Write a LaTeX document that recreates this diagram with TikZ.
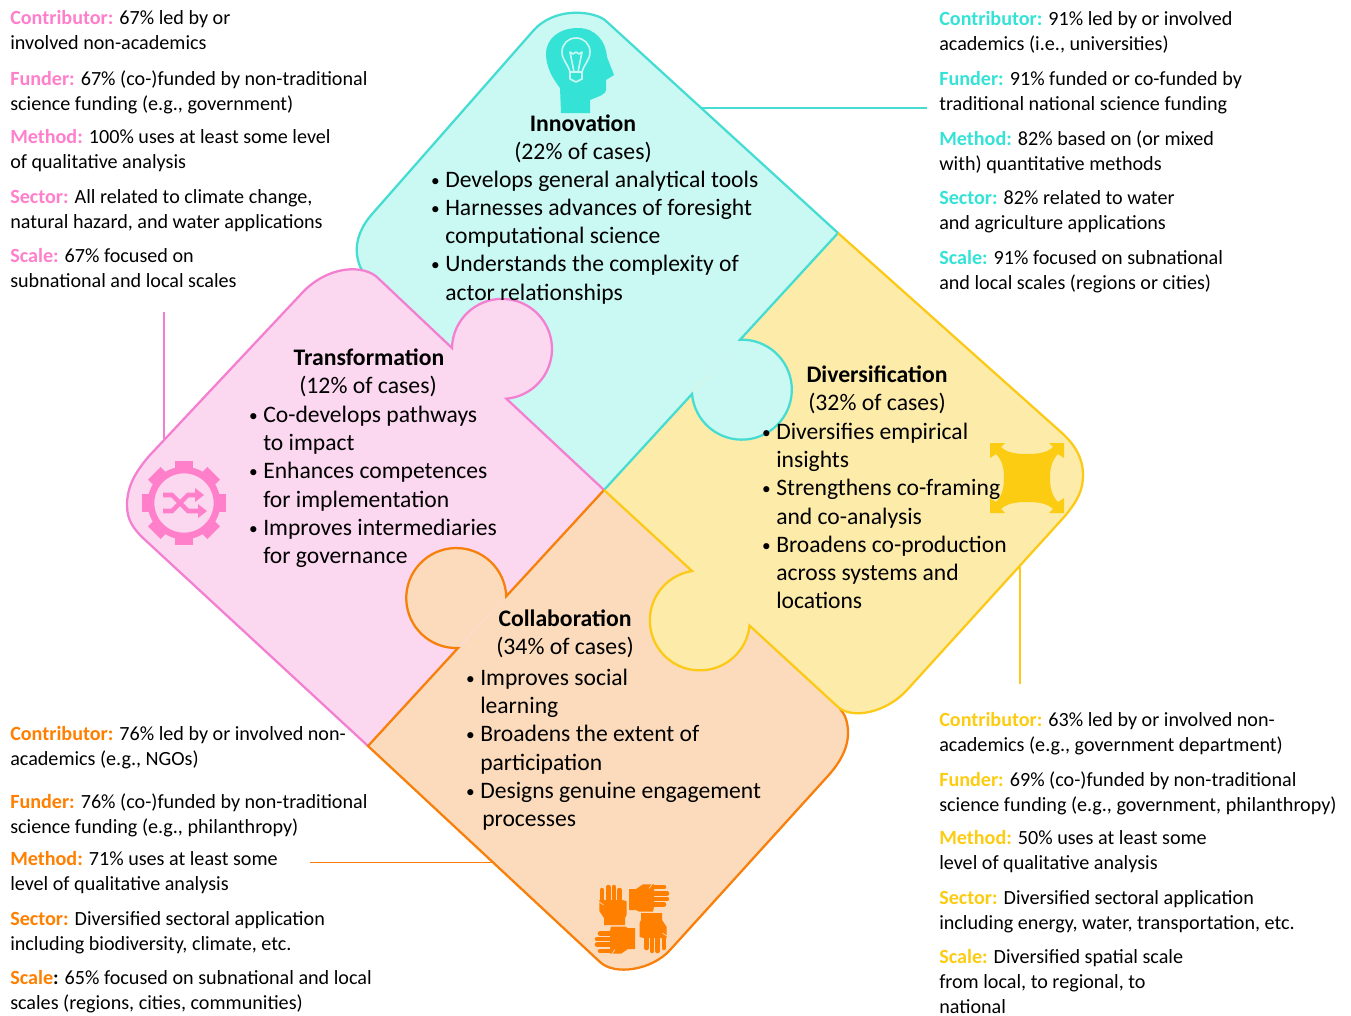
\documentclass[tikz,border=0pt]{standalone}
\usepackage{fontspec}
\setmainfont{Carlito}

\definecolor{cyanline}{HTML}{45DDD2}
\definecolor{cyanfill}{HTML}{CAF8F3}
\definecolor{cyanicon}{HTML}{35E3D6}
\definecolor{pinkline}{HTML}{F47FD0}
\definecolor{pinkfill}{HTML}{FBD7F0}
\definecolor{pinkicon}{HTML}{FF7FCB}
\definecolor{yellowline}{HTML}{FBC916}
\definecolor{yellowfill}{HTML}{FDEBAA}
\definecolor{yellowicon}{HTML}{FCCC12}
\definecolor{orangeline}{HTML}{F77F0A}
\definecolor{orangefill}{HTML}{FBDBBB}
\definecolor{orangeicon}{HTML}{FF7F00}

\tikzset{
	sidetxt/.style={anchor=north west, align=left, inner sep=0pt, yshift=5.6pt,
		font=\fontsize{15.1}{18.75}\selectfont, execute at begin node=\strut},
	paneltxt/.style={anchor=north west, align=left, inner sep=0pt, yshift=6.2pt,
		font=\fontsize{17.7}{21.15}\selectfont, execute at begin node=\strut},
	panelhead/.style={anchor=center, align=center, inner sep=0pt,
		font=\fontsize{17.8}{21.15}\selectfont},
	outline/.style={line width=1.7pt, line join=miter},
	leader/.style={line width=1.1pt},
	handpic/.pic={
		\fill[orangeicon] (-13.7,-5) -- (9,-5) -- (13.5,-4) -- (13.5,10) -- (12,13) -- (12,20) -- (-9,20) -- (-9,13) -- (-13.7,6) -- cycle;
		\draw[orangeicon, line width=3.4pt, line cap=round] (-11,-4) -- (-11,-15);
		\draw[orangeicon, line width=3.4pt, line cap=round] (-4.6,-4) -- (-4.6,-18);
		\draw[orangeicon, line width=3.4pt, line cap=round] (0.9,-4) -- (0.9,-18);
		\draw[orangeicon, line width=3.4pt, line cap=round] (6.4,-4) -- (6.4,-15);
		\draw[orangefill, line width=0.5pt] (-13.7,-3) -- (-9.5,0);
	}
}

\newcommand{\bul}{\llap{\raisebox{0.8pt}{\fontsize{13}{13}\selectfont\textbullet}\hspace{4.2pt}}}
\newcommand{\stat}[2]{\textcolor{#1}{\textbf{#2:}}}

% piece outlines, centre to outer end
\newcommand{\cyanouter}{(838,233) -- (606,21) .. controls (596,11.6) and (556,5) .. (533,31)
	-- (373,213) .. controls (362,225) and (355,240) .. (357,255) .. controls (358,262) and (360,267) .. (362,270)}
\newcommand{\cyantab}{(692,394) arc[start angle=185, end angle=452, radius=37.5pt]}
\newcommand{\yellowouter}{(838,707) .. controls (853,720) and (887,712) .. (907,690)
	-- (1065,516) .. controls (1078,500) and (1083,490) .. (1083,475) .. controls (1083,458) and (1075,445) .. (1062,433)
	-- (838,233)}
\newcommand{\yellowtab}{(749,625) arc[start angle=-6, end angle=-261, radius=37.5pt]}
\newcommand{\orangeouter}{(840,709) .. controls (845,714) and (848,722) .. (848,733) .. controls (848,750) and (838,765) .. (827,777)
	-- (670,950) .. controls (652,970) and (615,976) .. (600,962)
	-- (368,746)}
\newcommand{\orangetab}{(506,596) arc[start angle=2, end angle=272, radius=37.5pt]}
\newcommand{\pinkouter}{(143,538) .. controls (133,528) and (127,520) .. (127,505) .. controls (127,487) and (135,472) .. (150,455)
	-- (302,293) .. controls (327,266) and (364,263) .. (379,279)}
\newcommand{\pinktab}{(452,348) arc[start angle=179, end angle=-85, radius=37.5pt]}

\begin{document}
\begin{tikzpicture}[x=0.75pt, y=-0.75pt]
	\useasboundingbox (0,0) rectangle (1351,1015);

	\coordinate (ctr) at (604,490);

	% bodies
	\fill[cyanfill] (ctr) -- \cyanouter -- cycle;
	\fill[orangefill] (ctr) -- \orangeouter -- cycle;
	\fill[yellowfill] (ctr) -- \yellowouter -- cycle;
	\fill[pinkfill] (ctr) -- (368,746) -- \pinkouter -- cycle;

	% tabs
	\fill[cyanfill] \cyantab -- cycle;
	\fill[yellowfill] \yellowtab -- cycle;
	\fill[orangefill] \orangetab -- cycle;
	\fill[pinkfill] \pinktab -- cycle;

	% outlines
	\draw[outline, cyanline] (ctr) -- \cyantab -- \cyanouter;
	\draw[outline, pinkline] (368,746) -- \pinkouter -- \pinktab -- (ctr);
	\draw[outline, orangeline] \orangeouter -- (458,648) arc[start angle=272, end angle=2, radius=37.5pt] -- (ctr);
	\draw[outline, yellowline] (ctr) -- (692,571) arc[start angle=99, end angle=354, radius=37.5pt] -- \yellowouter;

	% leaders
	\coordinate (cyanfoot) at (700,108);
	\coordinate (cyanend) at (927,108);
	\coordinate (pinkfoot) at (164,441);
	\coordinate (pinkend) at (164,312);
	\coordinate (yellowfoot) at (1020,567);
	\coordinate (yellowend) at (1020,684);
	\coordinate (orangefoot) at (495,862.5);
	\coordinate (orangeend) at (310,862.5);
	\draw[leader, cyanline] (cyanfoot) -- (cyanend);
	\draw[leader, pinkline] (pinkfoot) -- (pinkend);
	\draw[leader, yellowline] (yellowfoot) -- (yellowend);
	\draw[leader, orangeline] (orangefoot) -- (orangeend);

	% head with bulb
	\fill[cyanicon] (561,113) -- (560,88) .. controls (552,78) and (546,66) .. (546,54)
		.. controls (546,38) and (560,28) .. (578,28) .. controls (596,28) and (606,42) .. (607,57)
		-- (614,75) -- (606,80) -- (606,90) .. controls (606,94) and (600,96) .. (590,100) -- (590,113) -- cycle;
	\draw[cyanfill, line width=1.2pt, line join=round] (570,72) .. controls (568,64) and (562,60) .. (562,52)
		.. controls (562,44) and (568,38) .. (576,38) .. controls (584,38) and (590,44) .. (590,52)
		.. controls (590,60) and (584,64) .. (582,72) -- cycle;
	\draw[cyanfill, line width=1.2pt, line join=round] (570,72) -- (570,79) -- (576,82) -- (582,79) -- (582,72);
	\draw[cyanfill, line width=1.2pt, line join=round] (574,72) -- (570,52) -- (573,54) -- (576,52) -- (579,54) -- (582,52) -- (578,72);

	% gear with crossing arrows
	\draw[pinkicon, line width=5pt] (184,503) circle (33);
	\foreach \a in {0,45,...,315}
		\fill[pinkicon, rotate around={\a:(184,503)}] (175,461) rectangle (193,472);
	\draw[pinkicon, line width=3.4pt] (163,495) -- (172,495) -- (188,511) -- (198,511);
	\draw[pinkicon, line width=3.4pt] (163,511) -- (172,511) -- (188,495) -- (195,495);
	\fill[pinkicon] (198,504) -- (207,511) -- (198,518) -- cycle;
	\fill[pinkicon] (195,488) -- (204,495) -- (195,502) -- cycle;

	% four hands
	\pic at (613,905) {handpic};
	\pic[rotate=-90] at (649,898) {handpic};
	\pic[rotate=180] at (653,933) {handpic};
	\pic[rotate=90] at (615,940) {handpic};

	% arrows square
	\fill[yellowicon, shift={(1027,478)}] (-37,-35) -- (-22,-35) -- (-26,-31) .. controls (-20,-25) and (-10,-24) .. (0,-24)
		.. controls (10,-24) and (20,-25) .. (26,-31)
		-- (22,-35) -- (37,-35) -- (37,-20) -- (31,-24) .. controls (25,-18) and (23,-10) .. (23,0)
		.. controls (23,10) and (25,18) .. (31,24)
		-- (37,20) -- (37,35) -- (22,35) -- (26,31) .. controls (20,25) and (10,24) .. (0,24)
		.. controls (-10,24) and (-20,25) .. (-26,31)
		-- (-22,35) -- (-37,35) -- (-37,20) -- (-31,24) .. controls (-25,18) and (-23,10) .. (-23,0)
		.. controls (-23,-10) and (-25,-18) .. (-31,-24)
		-- (-37,-20) -- cycle;

	% panel texts
	\node[panelhead] (innohead) at (583,123) {\textbf{Innovation}};
	\node[panelhead] (innoshare) at (583,152) {(22\% of cases)};
	\node[paneltxt] (innolist) at (445,179) {\bul Develops general analytical tools\\
		\bul Harnesses advances of foresight\\
		computational science\\
		\bul Understands the complexity of\\
		actor relationships};

	\node[panelhead] (transhead) at (369,357) {\textbf{Transformation}};
	\node[panelhead] (transshare) at (368,386) {(12\% of cases)};
	\node[paneltxt] (translist) at (263,414) {\bul Co-develops pathways\\
		to impact\\
		\bul Enhances competences\\
		for implementation\\
		\bul Improves intermediaries\\
		for governance};

	\node[panelhead] (divhead) at (877,374) {\textbf{Diversification}};
	\node[panelhead] (divshare) at (877,403) {(32\% of cases)};
	\node[paneltxt] (divlist) at (776,431) {\bul Diversifies empirical\\
		insights\\
		\bul Strengthens co-framing\\
		and co-analysis\\
		\bul Broadens co-production\\
		across systems and\\
		locations};

	\node[panelhead] (colhead) at (565,618) {\textbf{Collaboration}};
	\node[panelhead] (colshare) at (565,647) {(34\% of cases)};
	\node[paneltxt] (collist) at (480,677) {\bul Improves social\\
		learning\\
		\bul Broadens the extent of\\
		participation\\
		\bul Designs genuine engagement\\
		\hspace*{1.5pt}processes};

	% pink column
	\node[sidetxt] (pinkcontrib) at (10,18) {\stat{pinkicon}{Contributor} 67\% led by or\\involved non-academics};
	\node[sidetxt] (pinkfunder) at (10,78) {\stat{pinkicon}{Funder} 67\% (co-)funded by non-traditional\\science funding (e.g., government)};
	\node[sidetxt] (pinkmethod) at (10,137) {\stat{pinkicon}{Method} 100\% uses at least some level\\of qualitative analysis};
	\node[sidetxt] (pinksector) at (10,197) {\stat{pinkicon}{Sector} All related to climate change,\\natural hazard, and water applications};
	\node[sidetxt] (pinkscale) at (10,256) {\stat{pinkicon}{Scale} 67\% focused on\\subnational and local scales};

	% cyan column
	\node[sidetxt] (cyancontrib) at (939,19) {\stat{cyanicon}{Contributor} 91\% led by or involved\\academics (i.e., universities)};
	\node[sidetxt] (cyanfunder) at (939,79) {\stat{cyanicon}{Funder} 91\% funded or co-funded by\\traditional national science funding};
	\node[sidetxt] (cyanmethod) at (939,138) {\stat{cyanicon}{Method} 82\% based on (or mixed\\with) quantitative methods};
	\node[sidetxt] (cyansector) at (939,198) {\stat{cyanicon}{Sector} 82\% related to water\\and agriculture applications};
	\node[sidetxt] (cyanscale) at (939,258) {\stat{cyanicon}{Scale} 91\% focused on subnational\\and local scales (regions or cities)};

	% yellow column
	\node[sidetxt] (yellowcontrib) at (939,720) {\stat{yellowicon}{Contributor} 63\% led by or involved non-\\academics (e.g., government department)};
	\node[sidetxt] (yellowfunder) at (939,779) {\stat{yellowicon}{Funder} 69\% (co-)funded by non-traditional\\science funding (e.g., government, philanthropy)};
	\node[sidetxt] (yellowmethod) at (939,838) {\stat{yellowicon}{Method} 50\% uses at least some\\level of qualitative analysis};
	\node[sidetxt] (yellowsector) at (939,898) {\stat{yellowicon}{Sector} Diversified sectoral application\\including energy, water, transportation, etc.};
	\node[sidetxt] (yellowscale) at (939,957) {\stat{yellowicon}{Scale} Diversified spatial scale\\from local, to regional, to\\national};

	% orange column
	\node[sidetxt] (orangecontrib) at (10,734) {\stat{orangeicon}{Contributor} 76\% led by or involved non-\\academics (e.g., NGOs)};
	\node[sidetxt] (orangefunder) at (10,801) {\stat{orangeicon}{Funder} 76\% (co-)funded by non-traditional\\science funding (e.g., philanthropy)};
	\node[sidetxt] (orangemethod) at (10,859) {\stat{orangeicon}{Method} 71\% uses at least some\\level of qualitative analysis};
	\node[sidetxt] (orangesector) at (10,919) {\stat{orangeicon}{Sector} Diversified sectoral application\\including biodiversity, climate, etc.};
	\node[sidetxt] (orangescale) at (10,978) {\textcolor{orangeicon}{\textbf{Scale}}\textbf{:} 65\% focused on subnational and local\\scales (regions, cities, communities)};
\end{tikzpicture}
\end{document}
